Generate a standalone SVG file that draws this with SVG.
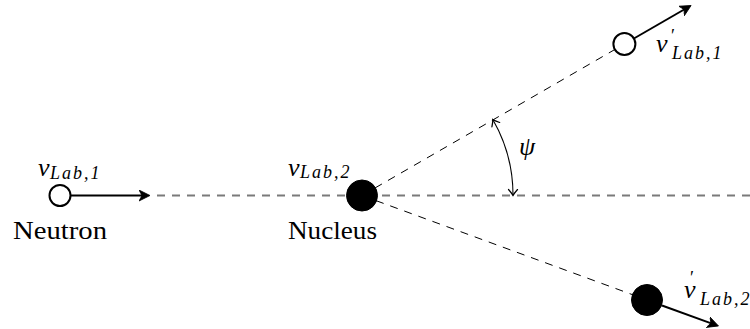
<svg xmlns="http://www.w3.org/2000/svg" width="750" height="329" viewBox="0 0 750 329">
<style>
  text { font-family: 'Liberation Serif', 'DejaVu Serif', serif; fill: #000; }
  .it { font-style: italic; }
  .main { font-size: 26px; }
  .sub { font-size: 18px; font-style: italic; letter-spacing: 2px; }
  .prime { font-size: 18px; font-style: normal; }
  .arrow { stroke: #000; stroke-width: 2; fill: none; marker-end: url(#stealth); }
  .hdash { stroke: #7a7a7a; stroke-width: 2; stroke-dasharray: 8 7; fill: none; }
  .ddash { stroke: #000; stroke-width: 1; stroke-dasharray: 8 7; fill: none; }
  .open { fill: #fff; stroke: #000; stroke-width: 2; }
  .solid { fill: #000; stroke: #000; stroke-width: 1; }
</style>
<defs>
  <marker id="stealth" markerUnits="userSpaceOnUse" viewBox="0 -6 12 12" markerWidth="12" markerHeight="12" refX="7" refY="0" orient="auto">
    <path d="M11,0 L0,-5.5 L3,0 L0,5.5 Z" fill="#000" stroke="#000" stroke-width="0.8" stroke-linejoin="miter"/>
  </marker>
  <marker id="to" markerUnits="userSpaceOnUse" viewBox="-8 -6 10 12" markerWidth="10" markerHeight="12" refX="0" refY="0" orient="auto-start-reverse">
    <path d="M-6,-4.5 Q-2,-1 0,0 Q-2,1 -6,4.5" fill="none" stroke="#000" stroke-width="1.2" stroke-linecap="round"/>
  </marker>
</defs>

<g id="connectors">
  <line class="hdash" x1="157" y1="195.5" x2="750" y2="195.5"/>
  <line class="ddash" x1="362" y1="195.5" x2="624.4" y2="44"/>
  <line class="ddash" x1="362" y1="195.5" x2="647" y2="300"/>
  <line class="arrow" x1="71" y1="195.5" x2="146" y2="195.5"/>
  <line class="arrow" x1="633.9" y1="38.5" x2="687.6" y2="7.5"/>
  <line class="arrow" x1="662" y1="305.5" x2="714.7" y2="324.6"/>
  <path id="angle-arc" d="M492.8,119.5 A151,151 0 0 1 513,195.5" fill="none" stroke="#000" stroke-width="1.1" marker-start="url(#to)" marker-end="url(#to)"/>
</g>

<g id="neutron">
  <circle class="open" cx="60" cy="195.5" r="10.5"/>
  <text class="main" x="13" y="239" textLength="94" lengthAdjust="spacingAndGlyphs">Neutron</text>
  <text><tspan class="main it" x="38" y="176">v</tspan><tspan class="sub" x="50" y="178.5">Lab,1</tspan></text>
</g>

<g id="nucleus">
  <circle class="solid" cx="362" cy="195.5" r="15.5"/>
  <text class="main" x="288" y="239" textLength="89" lengthAdjust="spacingAndGlyphs">Nucleus</text>
  <text><tspan class="main it" x="288" y="175.5">v</tspan><tspan class="sub" x="300" y="177.5">Lab,2</tspan></text>
</g>

<g id="scattered-neutron">
  <circle class="open" cx="624.4" cy="44" r="11"/>
  <text><tspan class="main it" x="656" y="52">v</tspan><tspan class="prime" x="671" y="42">′</tspan><tspan class="sub" x="672" y="58.5">Lab,1</tspan></text>
</g>

<g id="recoil-nucleus">
  <circle class="solid" cx="647" cy="300" r="15.5"/>
  <text><tspan class="main it" x="684" y="298">v</tspan><tspan class="prime" x="690" y="284">′</tspan><tspan class="sub" x="700" y="305">Lab,2</tspan></text>
</g>

<g id="angle-label">
  <text class="main it" x="519" y="155">ψ</text>
</g>
</svg>
